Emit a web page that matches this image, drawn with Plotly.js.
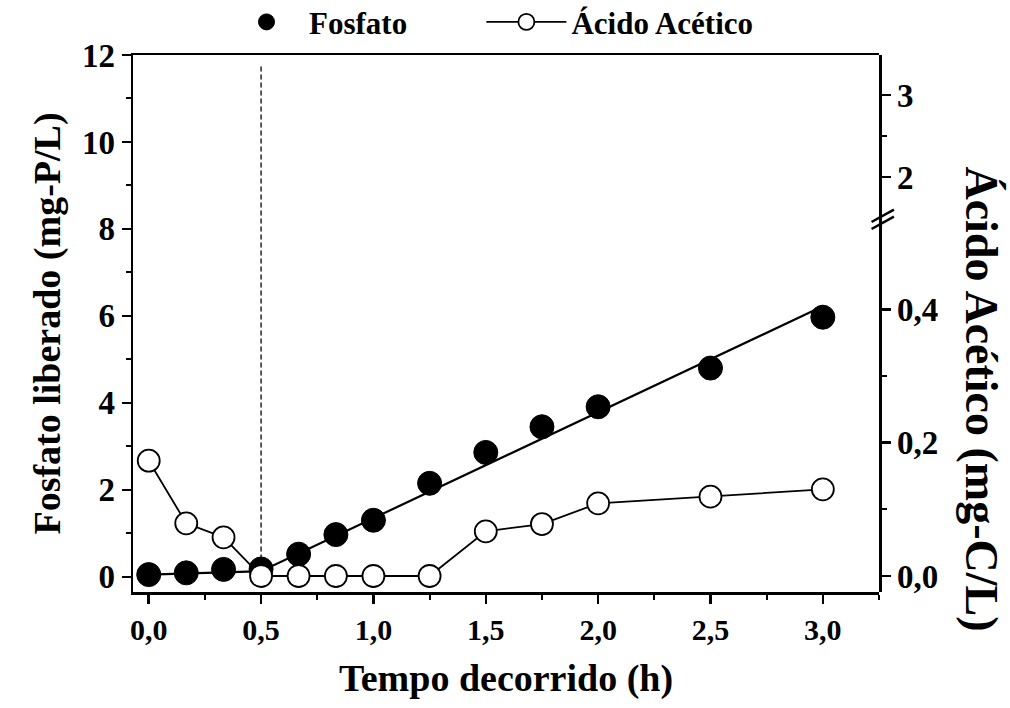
<!DOCTYPE html>
<html>
<head>
<meta charset="utf-8">
<script src="https://cdn.plot.ly/plotly-3.0.1.min.js"></script>
<style>
  html, body { margin: 0; padding: 0; background: #fff; }
  #chart { width: 1010px; height: 708px; }
</style>
</head>
<body>
<div id="chart"></div>
<script>
// Elapsed time (h)
const tempo = [0, 0.167, 0.333, 0.5, 0.667, 0.833, 1.0, 1.25, 1.5, 1.75, 2.0, 2.5, 3.0];
// Phosphate released (mg-P/L)
const fosfato = [0.05, 0.09, 0.17, 0.18, 0.52, 0.97, 1.3, 2.15, 2.86, 3.45, 3.91, 4.8, 5.97];
// Acetic acid (mg-C/L)
const acidoAcetico = [0.173, 0.079, 0.058, 0, 0, 0, 0, 0, 0.067, 0.078, 0.109, 0.119, 0.130];
// Trend line for the phosphate release
const tendenciaX = [0, 0.5, 3.0];
const tendenciaY = [0.05, 0.13, 6.22];
// Time of the phase change (dashed marker)
const mudancaFase = [0.5];

const serif = 'Liberation Serif, Times New Roman, serif';
const fontTickX = { family: serif, size: 30, color: '#000', weight: 'bold' };
const fontTickY = { family: serif, size: 33, color: '#000', weight: 'bold' };
const fontTitle = { family: serif, size: 38, color: '#000', weight: 'bold' };
const fontLegend = { family: serif, size: 31, color: '#000', weight: 'bold' };

const traces = [
  {
    x: tendenciaX, y: tendenciaY, xaxis: 'x', yaxis: 'y',
    mode: 'lines', line: { color: '#000', width: 2.2 },
    showlegend: false, hoverinfo: 'skip'
  },
  {
    x: tempo, y: fosfato, xaxis: 'x', yaxis: 'y',
    name: 'Fosfato', mode: 'markers', legend: 'legend',
    marker: { symbol: 'circle', size: 24, color: '#000', line: { color: '#000', width: 1 } }
  },
  {
    x: tempo, y: acidoAcetico, xaxis: 'x', yaxis: 'y2',
    name: 'Ácido Acético', mode: 'lines+markers', legend: 'legend2',
    line: { color: '#000', width: 1.8 },
    marker: { symbol: 'circle', size: 22, color: '#fff', line: { color: '#000', width: 1.8 } }
  },
  // Empty trace so the upper part of the broken axis gets its own subplot
  { x: [], y: [], xaxis: 'x', yaxis: 'y3', mode: 'markers', showlegend: false, hoverinfo: 'skip' }
];

const axisCommon = {
  showgrid: false, zeroline: false,
  showline: true, linecolor: '#000', linewidth: 2.5,
  ticks: 'outside', ticklen: 9, tickwidth: 2.5, tickcolor: '#000',
  tickfont: fontTickY
};

const legendCommon = {
  orientation: 'h', xanchor: 'left', y: 1.061, yanchor: 'middle',
  font: fontLegend, bgcolor: 'rgba(0,0,0,0)', borderwidth: 0
};

const layout = {
  width: 1010, height: 708,
  margin: { l: 133, r: 131, t: 55, b: 116, autoexpand: false },
  paper_bgcolor: '#fff', plot_bgcolor: 'rgba(0,0,0,0)',
  separators: ',.',
  showlegend: true,
  legend: Object.assign({}, legendCommon, { x: 0.122, itemwidth: 75 }),
  legend2: Object.assign({}, legendCommon, { x: 0.467, itemwidth: 80 }),
  xaxis: Object.assign({}, axisCommon, {
    range: [-0.07, 3.25], tickvals: [0, 0.5, 1, 1.5, 2, 2.5, 3], tickformat: '.1f',
    tickfont: fontTickX, mirror: true, anchor: 'y',
    minor: { dtick: 0.25, tick0: 0, ticks: 'outside', ticklen: 5, tickwidth: 2, tickcolor: '#000' },
    title: { text: 'Tempo decorrido (h)', font: fontTitle, standoff: 20 }
  }),
  yaxis: Object.assign({}, axisCommon, {
    range: [-0.35, 12], tickvals: [0, 2, 4, 6, 8, 10, 12], tickformat: 'd',
    anchor: 'x', domain: [0, 1],
    minor: { dtick: 1, tick0: 0, ticks: 'outside', ticklen: 5, tickwidth: 2, tickcolor: '#000' },
    title: { text: 'Fosfato liberado (mg-P/L)', font: fontTitle, standoff: 10 }
  }),
  // Lower segment of the broken right axis
  yaxis2: Object.assign({}, axisCommon, {
    range: [-0.024, 0.532], domain: [0, 0.69], anchor: 'x', side: 'right',
    tickvals: [0, 0.2, 0.4], tickformat: '.1f',
    minor: { tickmode: 'array', tickvals: [0.1, 0.3], ticks: 'outside', ticklen: 5, tickwidth: 2, tickcolor: '#000' }
  }),
  // Upper segment of the broken right axis
  yaxis3: Object.assign({}, axisCommon, {
    range: [1.46, 3.49], domain: [0.69, 1], anchor: 'x', side: 'right',
    tickvals: [2, 3], tickformat: 'd',
    minor: { tickmode: 'array', tickvals: [2.5], ticks: 'outside', ticklen: 5, tickwidth: 2, tickcolor: '#000' }
  }),
  shapes: [
    {
      type: 'line', xref: 'x', yref: 'y',
      x0: mudancaFase[0], x1: mudancaFase[0], y0: 0.4, y1: 11.77,
      line: { color: '#000', width: 1.3, dash: '5px,3px' }
    },
    // Axis break marks
    { type: 'line', xref: 'paper', yref: 'paper', x0: 0.99, x1: 1.02, y0: 0.676, y1: 0.699, line: { color: '#000', width: 2.5 } },
    { type: 'line', xref: 'paper', yref: 'paper', x0: 0.99, x1: 1.02, y0: 0.689, y1: 0.712, line: { color: '#000', width: 2.5 } }
  ],
  annotations: [
    {
      text: 'Ácido Acético (mg-C/L)', textangle: 90,
      xref: 'paper', yref: 'paper', x: 1.137, y: 0.36,
      xanchor: 'center', yanchor: 'middle', showarrow: false,
      font: { family: serif, size: 46, color: '#000', weight: 'bold' }
    }
  ]
};

Plotly.newPlot('chart', traces, layout, { displayModeBar: false, staticPlot: true });
</script>
</body>
</html>
